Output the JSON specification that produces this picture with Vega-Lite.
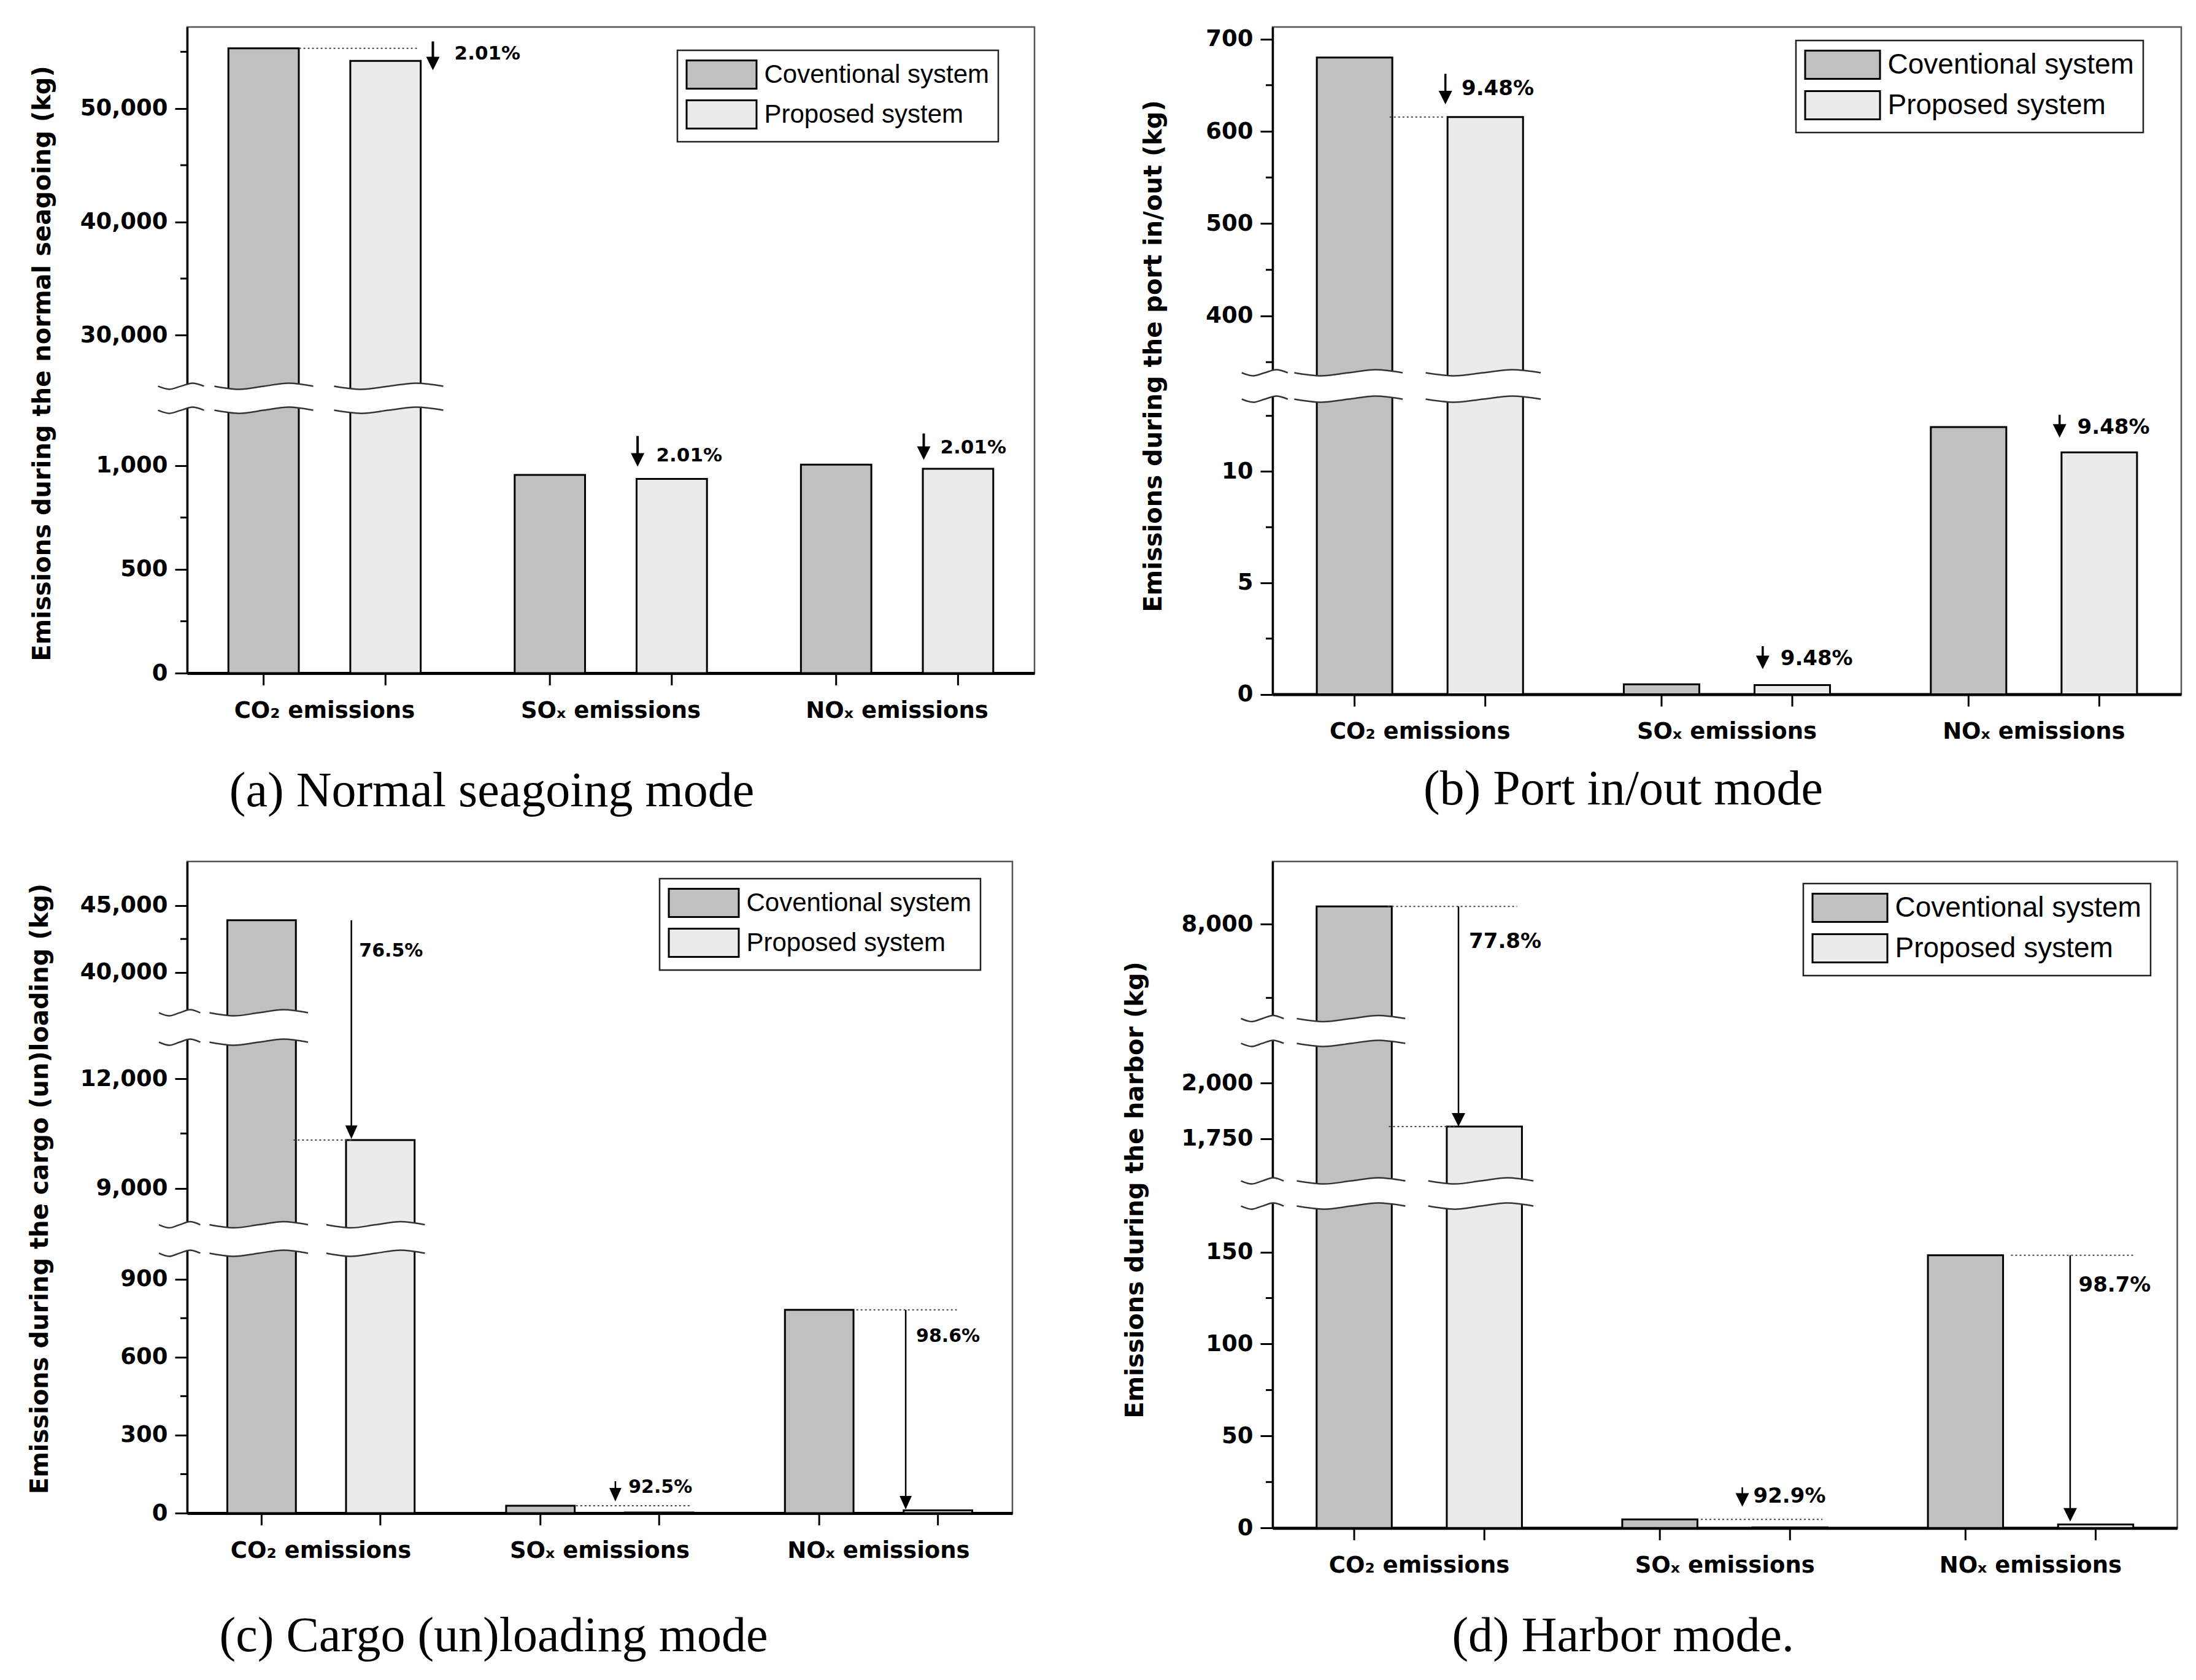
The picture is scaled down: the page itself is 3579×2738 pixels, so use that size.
{
  "$schema": "https://vega.github.io/schema/vega-lite/v6.json",
  "background": "white",
  "autosize": {"type": "pad"},
  "padding": {"left": 43, "top": 42, "right": 26, "bottom": 20},
  "columns": 2,
  "bounds": "flush",
  "align": "each",
  "spacing": {"row": 272, "column": 388},
  "datasets": {
    "barsA": [
      {"grp": "CO₂ emissions", "system": "Coventional system", "kg": 55300},
      {"grp": "CO₂ emissions", "system": "Proposed system", "kg": 54190},
      {"grp": "SOₓ emissions", "system": "Coventional system", "kg": 955},
      {"grp": "SOₓ emissions", "system": "Proposed system", "kg": 936},
      {"grp": "NOₓ emissions", "system": "Coventional system", "kg": 1005},
      {"grp": "NOₓ emissions", "system": "Proposed system", "kg": 985}
    ],
    "barsB": [
      {"grp": "CO₂ emissions", "system": "Coventional system", "kg": 680},
      {"grp": "CO₂ emissions", "system": "Proposed system", "kg": 615.5},
      {"grp": "SOₓ emissions", "system": "Coventional system", "kg": 0.45},
      {"grp": "SOₓ emissions", "system": "Proposed system", "kg": 0.41},
      {"grp": "NOₓ emissions", "system": "Coventional system", "kg": 12.0},
      {"grp": "NOₓ emissions", "system": "Proposed system", "kg": 10.86}
    ],
    "barsC": [
      {"grp": "CO₂ emissions", "system": "Coventional system", "kg": 43900},
      {"grp": "CO₂ emissions", "system": "Proposed system", "kg": 10320},
      {"grp": "SOₓ emissions", "system": "Coventional system", "kg": 28.3},
      {"grp": "SOₓ emissions", "system": "Proposed system", "kg": 2.1},
      {"grp": "NOₓ emissions", "system": "Coventional system", "kg": 782},
      {"grp": "NOₓ emissions", "system": "Proposed system", "kg": 10.9}
    ],
    "barsD": [
      {"grp": "CO₂ emissions", "system": "Coventional system", "kg": 8120},
      {"grp": "CO₂ emissions", "system": "Proposed system", "kg": 1805},
      {"grp": "SOₓ emissions", "system": "Coventional system", "kg": 4.7},
      {"grp": "SOₓ emissions", "system": "Proposed system", "kg": 0.33},
      {"grp": "NOₓ emissions", "system": "Coventional system", "kg": 148.3},
      {"grp": "NOₓ emissions", "system": "Proposed system", "kg": 1.93}
    ],
    "wavesA": [
      {"seg": "axis", "xf": -0.0344, "top": 25509, "bot": 1267},
      {"seg": "axis", "xf": -0.0208, "top": 22417, "bot": 1252},
      {"seg": "axis", "xf": -0.0073, "top": 25509, "bot": 1267},
      {"seg": "axis", "xf": 0.0063, "top": 25780, "bot": 4359},
      {"seg": "axis", "xf": 0.0199, "top": 25509, "bot": 1267},
      {"seg": "co2c", "xf": 0.0322, "top": 25509, "bot": 1267},
      {"seg": "co2c", "xf": 0.0614, "top": 22417, "bot": 1252},
      {"seg": "co2c", "xf": 0.0905, "top": 25509, "bot": 1267},
      {"seg": "co2c", "xf": 0.1197, "top": 25780, "bot": 4359},
      {"seg": "co2c", "xf": 0.1488, "top": 25509, "bot": 1267},
      {"seg": "co2p", "xf": 0.1734, "top": 25509, "bot": 1267},
      {"seg": "co2p", "xf": 0.2056, "top": 22417, "bot": 1252},
      {"seg": "co2p", "xf": 0.2379, "top": 25509, "bot": 1267},
      {"seg": "co2p", "xf": 0.2701, "top": 25780, "bot": 4359},
      {"seg": "co2p", "xf": 0.3023, "top": 25509, "bot": 1267}
    ],
    "wavesB": [
      {"seg": "axis", "xf": -0.0339, "top": 338.5, "bot": 13.25},
      {"seg": "axis", "xf": -0.0213, "top": 300.7, "bot": 13.11},
      {"seg": "axis", "xf": -0.0086, "top": 338.5, "bot": 13.25},
      {"seg": "axis", "xf": 0.0041, "top": 341.8, "bot": 51.07},
      {"seg": "axis", "xf": 0.0167, "top": 338.5, "bot": 13.25},
      {"seg": "co2c", "xf": 0.0239, "top": 338.5, "bot": 13.25},
      {"seg": "co2c", "xf": 0.0537, "top": 300.7, "bot": 13.11},
      {"seg": "co2c", "xf": 0.0835, "top": 338.5, "bot": 13.25},
      {"seg": "co2c", "xf": 0.1133, "top": 341.8, "bot": 51.07},
      {"seg": "co2c", "xf": 0.1431, "top": 338.5, "bot": 13.25},
      {"seg": "co2p", "xf": 0.1685, "top": 338.5, "bot": 13.25},
      {"seg": "co2p", "xf": 0.2002, "top": 300.7, "bot": 13.11},
      {"seg": "co2p", "xf": 0.2318, "top": 338.5, "bot": 13.25},
      {"seg": "co2p", "xf": 0.2635, "top": 341.8, "bot": 51.07},
      {"seg": "co2p", "xf": 0.2951, "top": 338.5, "bot": 13.25}
    ],
    "wavesC": [
      {"seg": "u-axis", "xf": -0.0342, "top": 37000, "bot": 13000},
      {"seg": "u-axis", "xf": -0.0217, "top": 34495, "bot": 12916},
      {"seg": "u-axis", "xf": -0.0092, "top": 37000, "bot": 13000},
      {"seg": "u-axis", "xf": 0.0034, "top": 37229, "bot": 15505},
      {"seg": "u-axis", "xf": 0.0159, "top": 37000, "bot": 13000},
      {"seg": "u-co2c", "xf": 0.0271, "top": 37000, "bot": 13000},
      {"seg": "u-co2c", "xf": 0.0569, "top": 34495, "bot": 12916},
      {"seg": "u-co2c", "xf": 0.0868, "top": 37000, "bot": 13000},
      {"seg": "u-co2c", "xf": 0.1166, "top": 37229, "bot": 15505},
      {"seg": "u-co2c", "xf": 0.1464, "top": 37000, "bot": 13000},
      {"seg": "l-axis", "xf": -0.0342, "top": 8000, "bot": 1000},
      {"seg": "l-axis", "xf": -0.0217, "top": 7244, "bot": 988},
      {"seg": "l-axis", "xf": -0.0092, "top": 8000, "bot": 1000},
      {"seg": "l-axis", "xf": 0.0034, "top": 8084, "bot": 1756},
      {"seg": "l-axis", "xf": 0.0159, "top": 8000, "bot": 1000},
      {"seg": "l-co2c", "xf": 0.0271, "top": 8000, "bot": 1000},
      {"seg": "l-co2c", "xf": 0.0569, "top": 7244, "bot": 988},
      {"seg": "l-co2c", "xf": 0.0868, "top": 8000, "bot": 1000},
      {"seg": "l-co2c", "xf": 0.1166, "top": 8084, "bot": 1756},
      {"seg": "l-co2c", "xf": 0.1464, "top": 8000, "bot": 1000},
      {"seg": "l-co2p", "xf": 0.1687, "top": 8000, "bot": 1000},
      {"seg": "l-co2p", "xf": 0.1986, "top": 7244, "bot": 988},
      {"seg": "l-co2p", "xf": 0.2284, "top": 8000, "bot": 1000},
      {"seg": "l-co2p", "xf": 0.2583, "top": 8084, "bot": 1756},
      {"seg": "l-co2p", "xf": 0.2881, "top": 8000, "bot": 1000}
    ],
    "wavesD": [
      {"seg": "u-axis", "xf": -0.0349, "top": 7360, "bot": 2180},
      {"seg": "u-axis", "xf": -0.0231, "top": 6719, "bot": 2166},
      {"seg": "u-axis", "xf": -0.0113, "top": 7360, "bot": 2180},
      {"seg": "u-axis", "xf": 0.0005, "top": 7381, "bot": 2821},
      {"seg": "u-axis", "xf": 0.0123, "top": 7360, "bot": 2180},
      {"seg": "u-co2c", "xf": 0.0268, "top": 7360, "bot": 2180},
      {"seg": "u-co2c", "xf": 0.0568, "top": 6719, "bot": 2166},
      {"seg": "u-co2c", "xf": 0.0868, "top": 7360, "bot": 2180},
      {"seg": "u-co2c", "xf": 0.1167, "top": 7381, "bot": 2821},
      {"seg": "u-co2c", "xf": 0.1467, "top": 7360, "bot": 2180},
      {"seg": "l-axis", "xf": -0.0349, "top": 1560, "bot": 175},
      {"seg": "l-axis", "xf": -0.0231, "top": 1391, "bot": 173.3},
      {"seg": "l-axis", "xf": -0.0113, "top": 1560, "bot": 175},
      {"seg": "l-axis", "xf": 0.0005, "top": 1574, "bot": 343.9},
      {"seg": "l-axis", "xf": 0.0123, "top": 1560, "bot": 175},
      {"seg": "l-co2c", "xf": 0.0268, "top": 1560, "bot": 175},
      {"seg": "l-co2c", "xf": 0.0568, "top": 1391, "bot": 173.3},
      {"seg": "l-co2c", "xf": 0.0868, "top": 1560, "bot": 175},
      {"seg": "l-co2c", "xf": 0.1167, "top": 1574, "bot": 343.9},
      {"seg": "l-co2c", "xf": 0.1467, "top": 1560, "bot": 175},
      {"seg": "l-co2p", "xf": 0.1721, "top": 1560, "bot": 175},
      {"seg": "l-co2p", "xf": 0.2012, "top": 1391, "bot": 173.3},
      {"seg": "l-co2p", "xf": 0.2302, "top": 1560, "bot": 175},
      {"seg": "l-co2p", "xf": 0.2593, "top": 1574, "bot": 343.9},
      {"seg": "l-co2p", "xf": 0.2883, "top": 1560, "bot": 175}
    ]
  },
  "concat": [
    {
      "width": 1381,
      "height": 1053,
      "title": {"text": "(a) Normal seagoing mode", "orient": "bottom", "anchor": "middle", "frame": "group", "dx": -194, "offset": 75},
      "resolve": {"scale": {"x": "independent"}},
      "layer": [
        {
          "data": {"name": "barsA"},
          "encoding": {
            "x": {"field": "grp", "type": "nominal", "scale": {"domain": ["CO₂ emissions", "SOₓ emissions", "NOₓ emissions"], "paddingInner": 0.1, "paddingOuter": 0.03}, "axis": {"title": null}},
            "xOffset": {"field": "system", "type": "nominal", "scale": {"domain": ["Coventional system", "Proposed system"], "paddingInner": 0.4225, "paddingOuter": 0.268}}
          },
          "layer": [
            {
              "mark": {"type": "bar", "stroke": "black", "strokeWidth": 3},
              "encoding": {
                "y": {"field": "kg", "type": "quantitative",
                  "scale": {"domain": [0, 1267, 25509, 57186], "range": [1053, 624.6, 585.4, 0], "nice": false, "zero": false},
                  "axis": {"title": "Emissions during the normal seagoing (kg)", "values": [0, 500, 1000, 30000, 40000, 50000], "format": ",d", "titleX": -224, "titleY": 548}},
                "fill": {"field": "system", "type": "nominal",
                  "scale": {"domain": ["Coventional system", "Proposed system"], "range": ["#c0c0c0", "#ebebeb"]},
                  "legend": {"orient": "none", "legendX": 799, "legendY": 38, "title": null, "symbolType": "M-2.478,-1H2.478V1H-2.478Z", "symbolSize": 2116, "symbolOffset": 32.5, "labelOffset": 45, "labelFontSize": 42}}
              }
            },
            {
              "mark": {"type": "rule", "y2Offset": 20, "strokeWidth": 3, "color": "black"},
              "encoding": {
                "y": {"datum": 0, "type": "quantitative", "scale": {"domain": [0, 1267, 25509, 57186], "range": [1053, 624.6, 585.4, 0], "nice": false, "zero": false}},
                "y2": {"datum": 0}
              }
            }
          ]
        },
        {
          "data": {"values": [{"v": 250}, {"v": 750}, {"v": 35000}, {"v": 45000}, {"v": 55000}]},
          "mark": {"type": "rule", "x2Offset": -11, "strokeWidth": 3, "color": "black"},
          "encoding": {
            "x": {"datum": 0, "type": "quantitative", "scale": {"domain": [0, 1], "nice": false, "zero": false}, "axis": null},
            "x2": {"datum": 0},
            "y": {"field": "v", "type": "quantitative", "scale": {"domain": [0, 1267, 25509, 57186], "range": [1053, 624.6, 585.4, 0], "nice": false, "zero": false}}
          }
        },
        {
          "data": {"name": "wavesA"},
          "mark": {"type": "area", "interpolate": "cardinal", "color": "white", "opacity": 1},
          "encoding": {
            "x": {"field": "xf", "type": "quantitative", "scale": {"domain": [0, 1], "nice": false, "zero": false}, "axis": null},
            "y": {"field": "top", "type": "quantitative", "scale": {"domain": [0, 1267, 25509, 57186], "range": [1053, 624.6, 585.4, 0], "nice": false, "zero": false}},
            "y2": {"field": "bot"},
            "detail": {"field": "seg"}
          }
        },
        {
          "data": {"name": "wavesA"},
          "mark": {"type": "line", "interpolate": "cardinal", "color": "#333333", "strokeWidth": 2.5},
          "encoding": {
            "x": {"field": "xf", "type": "quantitative", "scale": {"domain": [0, 1], "nice": false, "zero": false}, "axis": null},
            "y": {"field": "top", "type": "quantitative", "scale": {"domain": [0, 1267, 25509, 57186], "range": [1053, 624.6, 585.4, 0], "nice": false, "zero": false}},
            "detail": {"field": "seg"}
          }
        },
        {
          "data": {"name": "wavesA"},
          "mark": {"type": "line", "interpolate": "cardinal", "color": "#333333", "strokeWidth": 2.5},
          "encoding": {
            "x": {"field": "xf", "type": "quantitative", "scale": {"domain": [0, 1], "nice": false, "zero": false}, "axis": null},
            "y": {"field": "bot", "type": "quantitative", "scale": {"domain": [0, 1267, 25509, 57186], "range": [1053, 624.6, 585.4, 0], "nice": false, "zero": false}},
            "detail": {"field": "seg"}
          }
        },
        {
          "data": {"values": [{"x1": 0.1322, "x2": 0.2712, "v": 55300}]},
          "mark": {"type": "rule", "strokeDash": [3, 4], "strokeWidth": 2, "color": "#444444"},
          "encoding": {
            "x": {"field": "x1", "type": "quantitative", "scale": {"domain": [0, 1], "nice": false, "zero": false}, "axis": null},
            "x2": {"field": "x2"},
            "y": {"field": "v", "type": "quantitative", "scale": {"domain": [0, 1267, 25509, 57186], "range": [1053, 624.6, 585.4, 0], "nice": false, "zero": false}}
          }
        },
        {
          "data": {"values": [{"xf": 0.29, "from": 55914, "to": 53376}, {"xf": 0.5316, "from": 1143, "to": 995}, {"xf": 0.8693, "from": 1155, "to": 1028}]},
          "mark": {"type": "rule", "y2Offset": -11, "strokeWidth": 4, "color": "black"},
          "encoding": {
            "x": {"field": "xf", "type": "quantitative", "scale": {"domain": [0, 1], "nice": false, "zero": false}, "axis": null},
            "y": {"field": "from", "type": "quantitative", "scale": {"domain": [0, 1267, 25509, 57186], "range": [1053, 624.6, 585.4, 0], "nice": false, "zero": false}},
            "y2": {"field": "to"}
          }
        },
        {
          "data": {"values": [{"xf": 0.29, "from": 55914, "to": 53376}, {"xf": 0.5316, "from": 1143, "to": 995}, {"xf": 0.8693, "from": 1155, "to": 1028}]},
          "mark": {"type": "point", "shape": "M-1,-1L1,-1L0,1Z", "filled": true, "color": "black", "opacity": 1, "size": 484, "yOffset": -11},
          "encoding": {
            "x": {"field": "xf", "type": "quantitative", "scale": {"domain": [0, 1], "nice": false, "zero": false}, "axis": null},
            "y": {"field": "to", "type": "quantitative", "scale": {"domain": [0, 1267, 25509, 57186], "range": [1053, 624.6, 585.4, 0], "nice": false, "zero": false}}
          }
        },
        {
          "data": {"values": [{"xf": 0.3154, "v": 54827, "txt": "2.01%"}, {"xf": 0.5536, "v": 1047, "txt": "2.01%"}, {"xf": 0.8888, "v": 1086, "txt": "2.01%"}]},
          "mark": {"type": "text", "align": "left", "baseline": "middle", "font": "DejaVu Sans", "fontWeight": "bold", "fontSize": 31, "color": "black"},
          "encoding": {
            "x": {"field": "xf", "type": "quantitative", "scale": {"domain": [0, 1], "nice": false, "zero": false}, "axis": null},
            "y": {"field": "v", "type": "quantitative", "scale": {"domain": [0, 1267, 25509, 57186], "range": [1053, 624.6, 585.4, 0], "nice": false, "zero": false}},
            "text": {"field": "txt"}
          }
        }
      ]
    },
    {
      "width": 1481,
      "height": 1087.5,
      "title": {"text": "(b) Port in/out mode", "orient": "bottom", "anchor": "middle", "frame": "group", "dx": -169, "offset": 37},
      "resolve": {"scale": {"x": "independent"}},
      "layer": [
        {
          "data": {"name": "barsB"},
          "encoding": {
            "x": {"field": "grp", "type": "nominal", "scale": {"domain": ["CO₂ emissions", "SOₓ emissions", "NOₓ emissions"], "paddingInner": 0.1, "paddingOuter": 0.03}, "axis": {"title": null}},
            "xOffset": {"field": "system", "type": "nominal", "scale": {"domain": ["Coventional system", "Proposed system"], "paddingInner": 0.4225, "paddingOuter": 0.268}}
          },
          "layer": [
            {
              "mark": {"type": "bar", "stroke": "black", "strokeWidth": 3},
              "encoding": {
                "y": {"field": "kg", "type": "quantitative",
                  "scale": {"domain": [0, 13.25, 338.5, 713], "range": [1087.5, 606.5, 563.5, 0], "nice": false, "zero": false},
                  "axis": {"title": "Emissions during the port in/out (kg)", "values": [0, 5, 10, 400, 500, 600, 700], "format": ",d", "titleX": -182, "titleY": 536}},
                "fill": {"field": "system", "type": "nominal",
                  "scale": {"domain": ["Coventional system", "Proposed system"], "range": ["#c0c0c0", "#ebebeb"]},
                  "legend": {"orient": "none", "legendX": 853, "legendY": 22, "title": null, "symbolType": "M-2.652,-1H2.652V1H-2.652Z", "symbolSize": 2116, "symbolOffset": 36.5, "labelOffset": 49, "labelFontSize": 46, "rowPadding": 7}}
              }
            },
            {
              "mark": {"type": "rule", "y2Offset": 20, "strokeWidth": 3, "color": "black"},
              "encoding": {
                "y": {"datum": 0, "type": "quantitative", "scale": {"domain": [0, 13.25, 338.5, 713], "range": [1087.5, 606.5, 563.5, 0], "nice": false, "zero": false}},
                "y2": {"datum": 0}
              }
            }
          ]
        },
        {
          "data": {"values": [{"v": 2.5}, {"v": 7.5}, {"v": 12.5}, {"v": 350}, {"v": 450}, {"v": 550}, {"v": 650}]},
          "mark": {"type": "rule", "x2Offset": -11, "strokeWidth": 3, "color": "black"},
          "encoding": {
            "x": {"datum": 0, "type": "quantitative", "scale": {"domain": [0, 1], "nice": false, "zero": false}, "axis": null},
            "x2": {"datum": 0},
            "y": {"field": "v", "type": "quantitative", "scale": {"domain": [0, 13.25, 338.5, 713], "range": [1087.5, 606.5, 563.5, 0], "nice": false, "zero": false}}
          }
        },
        {
          "data": {"name": "wavesB"},
          "mark": {"type": "area", "interpolate": "cardinal", "color": "white", "opacity": 1},
          "encoding": {
            "x": {"field": "xf", "type": "quantitative", "scale": {"domain": [0, 1], "nice": false, "zero": false}, "axis": null},
            "y": {"field": "top", "type": "quantitative", "scale": {"domain": [0, 13.25, 338.5, 713], "range": [1087.5, 606.5, 563.5, 0], "nice": false, "zero": false}},
            "y2": {"field": "bot"},
            "detail": {"field": "seg"}
          }
        },
        {
          "data": {"name": "wavesB"},
          "mark": {"type": "line", "interpolate": "cardinal", "color": "#333333", "strokeWidth": 2.5},
          "encoding": {
            "x": {"field": "xf", "type": "quantitative", "scale": {"domain": [0, 1], "nice": false, "zero": false}, "axis": null},
            "y": {"field": "top", "type": "quantitative", "scale": {"domain": [0, 13.25, 338.5, 713], "range": [1087.5, 606.5, 563.5, 0], "nice": false, "zero": false}},
            "detail": {"field": "seg"}
          }
        },
        {
          "data": {"name": "wavesB"},
          "mark": {"type": "line", "interpolate": "cardinal", "color": "#333333", "strokeWidth": 2.5},
          "encoding": {
            "x": {"field": "xf", "type": "quantitative", "scale": {"domain": [0, 1], "nice": false, "zero": false}, "axis": null},
            "y": {"field": "bot", "type": "quantitative", "scale": {"domain": [0, 13.25, 338.5, 713], "range": [1087.5, 606.5, 563.5, 0], "nice": false, "zero": false}},
            "detail": {"field": "seg"}
          }
        },
        {
          "data": {"values": [{"x1": 0.1288, "x2": 0.1887, "v": 615.5}]},
          "mark": {"type": "rule", "strokeDash": [3, 4], "strokeWidth": 2, "color": "#444444"},
          "encoding": {
            "x": {"field": "x1", "type": "quantitative", "scale": {"domain": [0, 1], "nice": false, "zero": false}, "axis": null},
            "x2": {"field": "x2"},
            "y": {"field": "v", "type": "quantitative", "scale": {"domain": [0, 13.25, 338.5, 713], "range": [1087.5, 606.5, 563.5, 0], "nice": false, "zero": false}}
          }
        },
        {
          "data": {"values": [{"xf": 0.1902, "from": 662.3, "to": 629.2}, {"xf": 0.5394, "from": 2.16, "to": 1.13}, {"xf": 0.8661, "from": 12.55, "to": 11.52}]},
          "mark": {"type": "rule", "y2Offset": -11, "strokeWidth": 3.5, "color": "black"},
          "encoding": {
            "x": {"field": "xf", "type": "quantitative", "scale": {"domain": [0, 1], "nice": false, "zero": false}, "axis": null},
            "y": {"field": "from", "type": "quantitative", "scale": {"domain": [0, 13.25, 338.5, 713], "range": [1087.5, 606.5, 563.5, 0], "nice": false, "zero": false}},
            "y2": {"field": "to"}
          }
        },
        {
          "data": {"values": [{"xf": 0.1902, "from": 662.3, "to": 629.2}, {"xf": 0.5394, "from": 2.16, "to": 1.13}, {"xf": 0.8661, "from": 12.55, "to": 11.52}]},
          "mark": {"type": "point", "shape": "M-1,-1L1,-1L0,1Z", "filled": true, "color": "black", "opacity": 1, "size": 484, "yOffset": -11},
          "encoding": {
            "x": {"field": "xf", "type": "quantitative", "scale": {"domain": [0, 1], "nice": false, "zero": false}, "axis": null},
            "y": {"field": "to", "type": "quantitative", "scale": {"domain": [0, 13.25, 338.5, 713], "range": [1087.5, 606.5, 563.5, 0], "nice": false, "zero": false}}
          }
        },
        {
          "data": {"values": [{"xf": 0.208, "v": 645.7, "txt": "9.48%"}, {"xf": 0.5589, "v": 1.587, "txt": "9.48%"}, {"xf": 0.8856, "v": 11.98, "txt": "9.48%"}]},
          "mark": {"type": "text", "align": "left", "baseline": "middle", "font": "DejaVu Sans", "fontWeight": "bold", "fontSize": 34, "color": "black"},
          "encoding": {
            "x": {"field": "xf", "type": "quantitative", "scale": {"domain": [0, 1], "nice": false, "zero": false}, "axis": null},
            "y": {"field": "v", "type": "quantitative", "scale": {"domain": [0, 13.25, 338.5, 713], "range": [1087.5, 606.5, 563.5, 0], "nice": false, "zero": false}},
            "text": {"field": "txt"}
          }
        }
      ]
    },
    {
      "width": 1345,
      "height": 1062,
      "title": {"text": "(c) Cargo (un)loading mode", "orient": "bottom", "anchor": "middle", "frame": "group", "dx": -173, "offset": 83},
      "resolve": {"scale": {"x": "independent"}},
      "layer": [
        {
          "data": {"name": "barsC"},
          "encoding": {
            "x": {"field": "grp", "type": "nominal", "scale": {"domain": ["CO₂ emissions", "SOₓ emissions", "NOₓ emissions"], "paddingInner": 0.1, "paddingOuter": 0.03}, "axis": {"title": null}},
            "xOffset": {"field": "system", "type": "nominal", "scale": {"domain": ["Coventional system", "Proposed system"], "paddingInner": 0.4225, "paddingOuter": 0.268}}
          },
          "layer": [
            {
              "mark": {"type": "bar", "stroke": "black", "strokeWidth": 3},
              "encoding": {
                "y": {"field": "kg", "type": "quantitative",
                  "scale": {"domain": [0, 1000, 8000, 13000, 37000, 48272], "range": [1062, 638.4, 592.1, 294.5, 246.6, 0], "nice": false, "zero": false},
                  "axis": {"title": "Emissions during the cargo (un)loading (kg)", "values": [0, 300, 600, 900, 9000, 12000, 40000, 45000], "format": ",d", "titleX": -228, "titleY": 533}},
                "fill": {"field": "system", "type": "nominal",
                  "scale": {"domain": ["Coventional system", "Proposed system"], "range": ["#c0c0c0", "#ebebeb"]},
                  "legend": {"orient": "none", "legendX": 770, "legendY": 28, "title": null, "symbolType": "M-2.478,-1H2.478V1H-2.478Z", "symbolSize": 2116, "symbolOffset": 32.5, "labelOffset": 45, "labelFontSize": 42}}
              }
            },
            {
              "mark": {"type": "rule", "y2Offset": 20, "strokeWidth": 3, "color": "black"},
              "encoding": {
                "y": {"datum": 0, "type": "quantitative", "scale": {"domain": [0, 1000, 8000, 13000, 37000, 48272], "range": [1062, 638.4, 592.1, 294.5, 246.6, 0], "nice": false, "zero": false}},
                "y2": {"datum": 0}
              }
            }
          ]
        },
        {
          "data": {"values": [{"v": 150}, {"v": 450}, {"v": 750}, {"v": 10500}, {"v": 42500}]},
          "mark": {"type": "rule", "x2Offset": -11, "strokeWidth": 3, "color": "black"},
          "encoding": {
            "x": {"datum": 0, "type": "quantitative", "scale": {"domain": [0, 1], "nice": false, "zero": false}, "axis": null},
            "x2": {"datum": 0},
            "y": {"field": "v", "type": "quantitative", "scale": {"domain": [0, 1000, 8000, 13000, 37000, 48272], "range": [1062, 638.4, 592.1, 294.5, 246.6, 0], "nice": false, "zero": false}}
          }
        },
        {
          "data": {"name": "wavesC"},
          "mark": {"type": "area", "interpolate": "cardinal", "color": "white", "opacity": 1},
          "encoding": {
            "x": {"field": "xf", "type": "quantitative", "scale": {"domain": [0, 1], "nice": false, "zero": false}, "axis": null},
            "y": {"field": "top", "type": "quantitative", "scale": {"domain": [0, 1000, 8000, 13000, 37000, 48272], "range": [1062, 638.4, 592.1, 294.5, 246.6, 0], "nice": false, "zero": false}},
            "y2": {"field": "bot"},
            "detail": {"field": "seg"}
          }
        },
        {
          "data": {"name": "wavesC"},
          "mark": {"type": "line", "interpolate": "cardinal", "color": "#333333", "strokeWidth": 2.5},
          "encoding": {
            "x": {"field": "xf", "type": "quantitative", "scale": {"domain": [0, 1], "nice": false, "zero": false}, "axis": null},
            "y": {"field": "top", "type": "quantitative", "scale": {"domain": [0, 1000, 8000, 13000, 37000, 48272], "range": [1062, 638.4, 592.1, 294.5, 246.6, 0], "nice": false, "zero": false}},
            "detail": {"field": "seg"}
          }
        },
        {
          "data": {"name": "wavesC"},
          "mark": {"type": "line", "interpolate": "cardinal", "color": "#333333", "strokeWidth": 2.5},
          "encoding": {
            "x": {"field": "xf", "type": "quantitative", "scale": {"domain": [0, 1], "nice": false, "zero": false}, "axis": null},
            "y": {"field": "bot", "type": "quantitative", "scale": {"domain": [0, 1000, 8000, 13000, 37000, 48272], "range": [1062, 638.4, 592.1, 294.5, 246.6, 0], "nice": false, "zero": false}},
            "detail": {"field": "seg"}
          }
        },
        {
          "data": {"values": [{"x1": 0.1289, "x2": 0.1988, "v": 10320}, {"x1": 0.4712, "x2": 0.6105, "v": 28.3}, {"x1": 0.8109, "x2": 0.9327, "v": 782}]},
          "mark": {"type": "rule", "strokeDash": [3, 4], "strokeWidth": 2, "color": "#444444"},
          "encoding": {
            "x": {"field": "x1", "type": "quantitative", "scale": {"domain": [0, 1], "nice": false, "zero": false}, "axis": null},
            "x2": {"field": "x2"},
            "y": {"field": "v", "type": "quantitative", "scale": {"domain": [0, 1000, 8000, 13000, 37000, 48272], "range": [1062, 638.4, 592.1, 294.5, 246.6, 0], "nice": false, "zero": false}}
          }
        },
        {
          "data": {"values": [{"xf": 0.199, "from": 43900, "to": 10350}, {"xf": 0.5189, "from": 122.8, "to": 44.9}, {"xf": 0.8707, "from": 782, "to": 14}]},
          "mark": {"type": "rule", "y2Offset": -11, "strokeWidth": 2.5, "color": "black"},
          "encoding": {
            "x": {"field": "xf", "type": "quantitative", "scale": {"domain": [0, 1], "nice": false, "zero": false}, "axis": null},
            "y": {"field": "from", "type": "quantitative", "scale": {"domain": [0, 1000, 8000, 13000, 37000, 48272], "range": [1062, 638.4, 592.1, 294.5, 246.6, 0], "nice": false, "zero": false}},
            "y2": {"field": "to"}
          }
        },
        {
          "data": {"values": [{"xf": 0.199, "from": 43900, "to": 10350}, {"xf": 0.5189, "from": 122.8, "to": 44.9}, {"xf": 0.8707, "from": 782, "to": 14}]},
          "mark": {"type": "point", "shape": "M-0.9,-1L0.9,-1L0,1Z", "filled": true, "color": "black", "opacity": 1, "size": 484, "yOffset": -11},
          "encoding": {
            "x": {"field": "xf", "type": "quantitative", "scale": {"domain": [0, 1], "nice": false, "zero": false}, "axis": null},
            "y": {"field": "to", "type": "quantitative", "scale": {"domain": [0, 1000, 8000, 13000, 37000, 48272], "range": [1062, 638.4, 592.1, 294.5, 246.6, 0], "nice": false, "zero": false}}
          }
        },
        {
          "data": {"values": [{"xf": 0.2084, "v": 41600, "txt": "76.5%"}, {"xf": 0.5347, "v": 99, "txt": "92.5%"}, {"xf": 0.8833, "v": 680, "txt": "98.6%"}]},
          "mark": {"type": "text", "align": "left", "baseline": "middle", "font": "DejaVu Sans", "fontWeight": "bold", "fontSize": 30, "color": "black"},
          "encoding": {
            "x": {"field": "xf", "type": "quantitative", "scale": {"domain": [0, 1], "nice": false, "zero": false}, "axis": null},
            "y": {"field": "v", "type": "quantitative", "scale": {"domain": [0, 1000, 8000, 13000, 37000, 48272], "range": [1062, 638.4, 592.1, 294.5, 246.6, 0], "nice": false, "zero": false}},
            "text": {"field": "txt"}
          }
        }
      ]
    },
    {
      "width": 1474.5,
      "height": 1086.3,
      "title": {"text": "(d) Harbor mode.", "orient": "bottom", "anchor": "middle", "frame": "group", "dx": -166, "offset": 59},
      "resolve": {"scale": {"x": "independent"}},
      "layer": [
        {
          "data": {"name": "barsD"},
          "encoding": {
            "x": {"field": "grp", "type": "nominal", "scale": {"domain": ["CO₂ emissions", "SOₓ emissions", "NOₓ emissions"], "paddingInner": 0.1, "paddingOuter": 0.03}, "axis": {"title": null}},
            "xOffset": {"field": "system", "type": "nominal", "scale": {"domain": ["Coventional system", "Proposed system"], "paddingInner": 0.4225, "paddingOuter": 0.268}}
          },
          "layer": [
            {
              "mark": {"type": "bar", "stroke": "black", "strokeWidth": 3},
              "encoding": {
                "y": {"field": "kg", "type": "quantitative",
                  "scale": {"domain": [0, 175, 1560, 2180, 7360, 8424], "range": [1086.3, 561.6, 520.6, 296.4, 256, 0], "nice": false, "zero": false},
                  "axis": {"title": "Emissions during the harbor (kg)", "values": [0, 50, 100, 150, 1750, 2000, 8000], "format": ",d", "titleX": -212, "titleY": 535}},
                "fill": {"field": "system", "type": "nominal",
                  "scale": {"domain": ["Coventional system", "Proposed system"], "range": ["#c0c0c0", "#ebebeb"]},
                  "legend": {"orient": "none", "legendX": 865, "legendY": 36, "title": null, "symbolType": "M-2.652,-1H2.652V1H-2.652Z", "symbolSize": 2116, "symbolOffset": 36.5, "labelOffset": 49, "labelFontSize": 46, "rowPadding": 7}}
              }
            },
            {
              "mark": {"type": "rule", "y2Offset": 20, "strokeWidth": 3, "color": "black"},
              "encoding": {
                "y": {"datum": 0, "type": "quantitative", "scale": {"domain": [0, 175, 1560, 2180, 7360, 8424], "range": [1086.3, 561.6, 520.6, 296.4, 256, 0], "nice": false, "zero": false}},
                "y2": {"datum": 0}
              }
            }
          ]
        },
        {
          "data": {"values": [{"v": 25}, {"v": 75}, {"v": 125}, {"v": 7500}]},
          "mark": {"type": "rule", "x2Offset": -11, "strokeWidth": 3, "color": "black"},
          "encoding": {
            "x": {"datum": 0, "type": "quantitative", "scale": {"domain": [0, 1], "nice": false, "zero": false}, "axis": null},
            "x2": {"datum": 0},
            "y": {"field": "v", "type": "quantitative", "scale": {"domain": [0, 175, 1560, 2180, 7360, 8424], "range": [1086.3, 561.6, 520.6, 296.4, 256, 0], "nice": false, "zero": false}}
          }
        },
        {
          "data": {"name": "wavesD"},
          "mark": {"type": "area", "interpolate": "cardinal", "color": "white", "opacity": 1},
          "encoding": {
            "x": {"field": "xf", "type": "quantitative", "scale": {"domain": [0, 1], "nice": false, "zero": false}, "axis": null},
            "y": {"field": "top", "type": "quantitative", "scale": {"domain": [0, 175, 1560, 2180, 7360, 8424], "range": [1086.3, 561.6, 520.6, 296.4, 256, 0], "nice": false, "zero": false}},
            "y2": {"field": "bot"},
            "detail": {"field": "seg"}
          }
        },
        {
          "data": {"name": "wavesD"},
          "mark": {"type": "line", "interpolate": "cardinal", "color": "#333333", "strokeWidth": 2.5},
          "encoding": {
            "x": {"field": "xf", "type": "quantitative", "scale": {"domain": [0, 1], "nice": false, "zero": false}, "axis": null},
            "y": {"field": "top", "type": "quantitative", "scale": {"domain": [0, 175, 1560, 2180, 7360, 8424], "range": [1086.3, 561.6, 520.6, 296.4, 256, 0], "nice": false, "zero": false}},
            "detail": {"field": "seg"}
          }
        },
        {
          "data": {"name": "wavesD"},
          "mark": {"type": "line", "interpolate": "cardinal", "color": "#333333", "strokeWidth": 2.5},
          "encoding": {
            "x": {"field": "xf", "type": "quantitative", "scale": {"domain": [0, 1], "nice": false, "zero": false}, "axis": null},
            "y": {"field": "bot", "type": "quantitative", "scale": {"domain": [0, 175, 1560, 2180, 7360, 8424], "range": [1086.3, 561.6, 520.6, 296.4, 256, 0], "nice": false, "zero": false}},
            "detail": {"field": "seg"}
          }
        },
        {
          "data": {"values": [{"x1": 0.1272, "x2": 0.2703, "v": 8120}, {"x1": 0.1285, "x2": 0.2011, "v": 1805}, {"x1": 0.4734, "x2": 0.6078, "v": 4.7}, {"x1": 0.8162, "x2": 0.9525, "v": 148.3}]},
          "mark": {"type": "rule", "strokeDash": [3, 4], "strokeWidth": 2, "color": "#444444"},
          "encoding": {
            "x": {"field": "x1", "type": "quantitative", "scale": {"domain": [0, 1], "nice": false, "zero": false}, "axis": null},
            "x2": {"field": "x2"},
            "y": {"field": "v", "type": "quantitative", "scale": {"domain": [0, 175, 1560, 2180, 7360, 8424], "range": [1086.3, 561.6, 520.6, 296.4, 256, 0], "nice": false, "zero": false}}
          }
        },
        {
          "data": {"values": [{"xf": 0.2055, "from": 8120, "to": 1805}, {"xf": 0.5192, "from": 22.1, "to": 11.6}, {"xf": 0.8816, "from": 148.3, "to": 3.5}]},
          "mark": {"type": "rule", "y2Offset": -11, "strokeWidth": 2.5, "color": "black"},
          "encoding": {
            "x": {"field": "xf", "type": "quantitative", "scale": {"domain": [0, 1], "nice": false, "zero": false}, "axis": null},
            "y": {"field": "from", "type": "quantitative", "scale": {"domain": [0, 175, 1560, 2180, 7360, 8424], "range": [1086.3, 561.6, 520.6, 296.4, 256, 0], "nice": false, "zero": false}},
            "y2": {"field": "to"}
          }
        },
        {
          "data": {"values": [{"xf": 0.2055, "from": 8120, "to": 1805}, {"xf": 0.5192, "from": 22.1, "to": 11.6}, {"xf": 0.8816, "from": 148.3, "to": 3.5}]},
          "mark": {"type": "point", "shape": "M-1,-1L1,-1L0,1Z", "filled": true, "color": "black", "opacity": 1, "size": 484, "yOffset": -11},
          "encoding": {
            "x": {"field": "xf", "type": "quantitative", "scale": {"domain": [0, 1], "nice": false, "zero": false}, "axis": null},
            "y": {"field": "to", "type": "quantitative", "scale": {"domain": [0, 175, 1560, 2180, 7360, 8424], "range": [1086.3, 561.6, 520.6, 296.4, 256, 0], "nice": false, "zero": false}}
          }
        },
        {
          "data": {"values": [{"xf": 0.2171, "v": 7880, "txt": "77.8%"}, {"xf": 0.5314, "v": 17.1, "txt": "92.9%"}, {"xf": 0.8908, "v": 131.7, "txt": "98.7%"}]},
          "mark": {"type": "text", "align": "left", "baseline": "middle", "font": "DejaVu Sans", "fontWeight": "bold", "fontSize": 34, "color": "black"},
          "encoding": {
            "x": {"field": "xf", "type": "quantitative", "scale": {"domain": [0, 1], "nice": false, "zero": false}, "axis": null},
            "y": {"field": "v", "type": "quantitative", "scale": {"domain": [0, 175, 1560, 2180, 7360, 8424], "range": [1086.3, 561.6, 520.6, 296.4, 256, 0], "nice": false, "zero": false}},
            "text": {"field": "txt"}
          }
        }
      ]
    }
  ],
  "resolve": {
    "scale": {"fill": "independent", "xOffset": "independent"},
    "legend": {"fill": "independent"}
  },
  "config": {
    "font": "DejaVu Sans",
    "view": {"stroke": "#555555", "strokeWidth": 2.5},
    "axis": {
      "grid": false,
      "zindex": 0,
      "domainColor": "black",
      "tickColor": "black",
      "labelColor": "black",
      "titleColor": "black",
      "labelFont": "DejaVu Sans",
      "labelFontWeight": "bold",
      "labelFontSize": 37,
      "labelLimit": 0,
      "titleLimit": 0,
      "titleFont": "DejaVu Sans",
      "titleFontWeight": "bold",
      "titleFontSize": 40
    },
    "axisX": {"domainWidth": 5, "ticks": false, "labelPadding": 43, "labelAngle": 0, "labelBaseline": "top"},
    "axisY": {"domainWidth": 3.5, "tickWidth": 3, "tickSize": 20, "labelPadding": 12, "titleAngle": -90, "titleAlign": "center", "titleBaseline": "alphabetic"},
    "legend": {
      "labelFont": "Liberation Sans",
      "labelColor": "black",
      "labelLimit": 0,
      "symbolStrokeColor": "black",
      "symbolStrokeWidth": 3,
      "symbolOpacity": 1,
      "strokeColor": "#222222",
      "strokeWidth": 2.5,
      "fillColor": "white",
      "padding": 15,
      "rowPadding": 6
    },
    "title": {"font": "Liberation Serif", "fontSize": 80, "fontWeight": "normal", "color": "black"}
  }
}
